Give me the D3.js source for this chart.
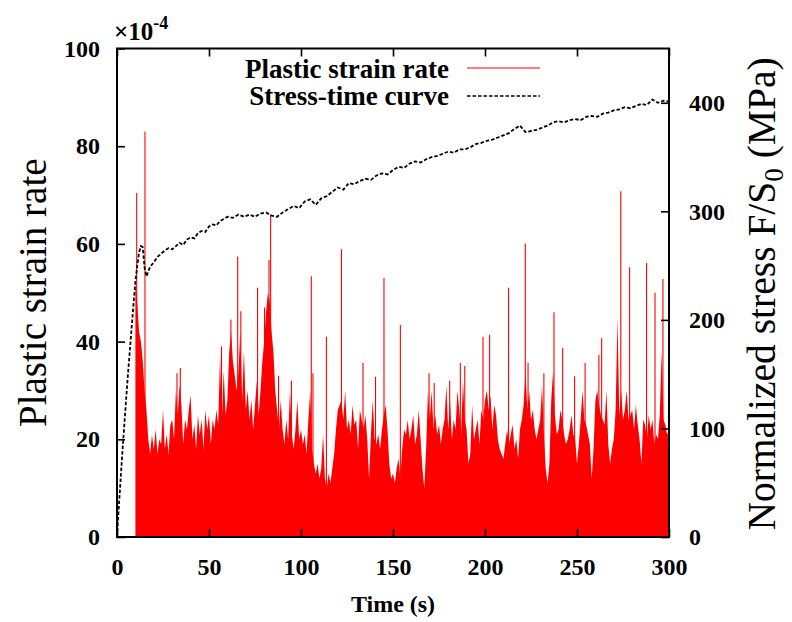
<!DOCTYPE html>
<html>
<head>
<meta charset="utf-8">
<script src="https://cdn.jsdelivr.net/npm/d3@7"></script>
<style>
  body { margin: 0; background: #fff; }
  svg text { font-family: "Liberation Serif", "Times New Roman", serif; fill: #000; }
</style>
</head>
<body>
<div id="chart"></div>
<script>
// plastic strain rate (x1e-4), one reading per second starting at rateStart
var rateStart = 10;
var strainRate = [
  52, 48, 42, 40, 36, 30, 26, 20, 17, 21,
  18, 22, 17, 20, 19, 26, 18, 21, 17, 23,
  24, 20, 30, 25, 31, 27, 19, 24, 22, 26,
  29, 20, 23, 18, 25, 21, 24, 18, 26, 22,
  25, 19, 24, 22, 26, 23, 37, 24, 34, 25,
  28, 38, 42, 36, 33, 30, 34, 42, 28, 38,
  26, 30, 24, 28, 22, 27, 32, 25, 30, 36,
  40, 46, 50, 48, 42, 38, 30, 26, 22, 28,
  22, 19, 24, 20, 30, 21, 18, 22, 28, 20,
  22, 19, 21, 17, 24, 30, 18, 15, 13, 15,
  12, 14, 21, 12, 10, 13, 11, 14, 17, 22,
  26, 27, 28, 24, 30, 22, 24, 21, 27, 23,
  24, 18, 26, 24, 22, 25, 20, 12, 21, 28,
  20, 19, 21, 18, 22, 25, 27, 22, 15, 12,
  13, 11, 14, 16, 12, 18, 22, 21, 24, 20,
  22, 25, 19, 21, 26, 20, 14, 10, 18, 30,
  24, 30, 22, 25, 21, 23, 19, 22, 24, 31,
  22, 28, 20, 24, 22, 30, 26, 21, 32, 24,
  22, 15, 17, 27, 20, 22, 24, 19, 26, 24,
  28, 30, 26, 29, 22, 27, 25, 20, 18, 17,
  16, 19, 22, 19, 21, 23, 18, 20, 16, 22,
  24, 27, 34, 26, 30, 24, 26, 22, 20, 22,
  24, 31, 21, 14, 11, 15, 28, 34, 25, 21,
  22, 26, 24, 21, 19, 20, 22, 25, 21, 20,
  15, 19, 24, 30, 24, 23, 21, 19, 12, 18,
  28, 30, 27, 25, 24, 23, 30, 19, 15, 18,
  20, 26, 45, 25, 30, 24, 26, 30, 24, 25,
  26, 22, 27, 23, 20, 15, 24, 23, 20, 25,
  22, 24, 19, 21, 20, 25, 38, 24, 23, 21,
  22
];

// isolated tall bursts of the strain rate
var spikeTimes = [10.7, 15.2, 32.6, 34.4, 56.8, 61.9, 65.6, 67.3, 76.4, 80.2, 82.6, 83.5, 87.8, 94.8,
  105.6, 106.5, 113.8, 122, 133.7, 140.5, 145.1, 154, 169.6, 172.4, 180.8, 186.6, 189, 198.9,
  202.5, 212.8, 221.9, 223.4, 232, 237.5, 242.2, 248.7, 254.4, 261.9, 263.4, 273.8, 278.6,
  287.8, 292.4, 296.7];
var spikeValues = [70.4, 83, 33.5, 34.6, 39, 44.5, 57.4, 46.2, 51, 47, 56.7, 66, 33, 32,
  53.4, 33.5, 41, 58.9, 35.6, 32.8, 53, 43.4, 33.5, 31.5, 32, 35.6, 35, 41,
  41.4, 51, 60.1, 35.6, 33.5, 46, 38.7, 32.9, 35.6, 37.3, 40.7, 70.8, 55.2,
  56.1, 50, 52.8];

// stress-time curve (MPa)
var stressTimes = [0, 1, 2, 3, 4, 5, 6, 7, 8, 9, 10, 11, 12, 13, 14, 15, 16, 18, 20, 22, 24, 26, 28, 30,
  32, 34, 36, 38, 40, 42, 44, 46, 48, 50, 52, 54, 56, 58, 60, 63, 66, 69, 72, 75, 78, 81, 84, 87,
  90, 93, 96, 99, 102, 105, 108, 111, 114, 117, 120, 123, 126, 129, 132, 135, 138, 141, 144, 147,
  150, 153, 156, 159, 162, 165, 168, 171, 174, 177, 180, 183, 186, 189, 192, 195, 198, 201, 204,
  207, 210, 213, 216, 219, 222, 225, 228, 231, 234, 237, 240, 243, 246, 249, 252, 255, 258, 261,
  264, 267, 270, 273, 276, 279, 282, 285, 288, 291, 294, 297, 300];
var stressValues = [0, 28, 54, 80, 104, 128, 151, 172, 194, 215, 235, 250, 262, 268, 267, 248, 240, 249, 253, 258, 261, 264, 266, 265,
  268, 271, 269, 274, 276, 275, 280, 282, 281, 286, 288, 287, 291, 293, 295, 294, 297, 295, 297, 295, 298, 299, 296, 295,
  299, 302, 305, 303, 309, 311, 306, 312, 314, 318, 322, 320, 326, 325, 328, 330, 329, 333, 335, 334,
  338, 341, 340, 344, 346, 345, 348, 350, 351, 353, 355, 354, 357, 357, 359, 362, 363, 365, 366,
  368, 370, 372, 376, 379, 373, 374, 375, 377, 379, 382, 383, 382, 384, 385, 384, 387, 388, 387,
  390, 391, 393, 394, 396, 395, 397, 399, 398, 403, 400, 402, 401];

var timeTicks = [0, 50, 100, 150, 200, 250, 300];
var rateTicks = [0, 20, 40, 60, 80, 100];
var stressTicks = [0, 100, 200, 300, 400];

function StrainChart(params) {

  var attrs = Object.assign({
    container: '#chart',
    width: 792,
    height: 622,
    margin: { top: 48.5, right: 123, bottom: 85, left: 117 },
    rateColor: '#ff0000',
    tickFont: 24
  }, params);

  var viz = {};

  function main() {
    var left = attrs.margin.left,
      right = attrs.width - attrs.margin.right,
      top = attrs.margin.top,
      bottom = attrs.height - attrs.margin.bottom;

    var x = d3.scaleLinear().domain([0, 300]).range([left, right]);
    var yRate = d3.scaleLinear().domain([0, 100]).range([bottom, top]);
    var yStress = d3.scaleLinear().domain([0, 450]).range([bottom, top]);

    viz.svg = d3.select(attrs.container).append('svg')
      .attr('width', attrs.width)
      .attr('height', attrs.height);

    var rateData = strainRate.map(function (v, i) { return [rateStart + i, v]; });

    // red filled strain rate
    viz.svg.append('path')
      .datum(rateData)
      .attr('fill', attrs.rateColor)
      .attr('d', d3.area()
        .x(function (d) { return x(d[0]); })
        .y0(yRate(0))
        .y1(function (d) { return yRate(d[1]); }));

    viz.svg.append('g').selectAll('line')
      .data(spikeTimes)
      .join('line')
      .attr('x1', function (d) { return x(d); })
      .attr('x2', function (d) { return x(d); })
      .attr('y1', yRate(0))
      .attr('y2', function (d, i) { return yRate(spikeValues[i]); })
      .attr('stroke', attrs.rateColor)
      .attr('stroke-width', 1.1);

    // stress curve
    viz.svg.append('path')
      .datum(stressTimes.map(function (t, i) { return [t, stressValues[i]]; }))
      .attr('fill', 'none')
      .attr('stroke', '#000')
      .attr('stroke-width', 1.8)
      .attr('stroke-dasharray', '3.5,2')
      .attr('d', d3.line()
        .x(function (d) { return x(d[0]); })
        .y(function (d) { return yStress(d[1]); }));

    // axes, ticks pointing inward
    var axes = [
      { axis: d3.axisBottom(x).tickValues(timeTicks).tickSize(-8).tickPadding(21), pos: 'translate(0,' + bottom + ')' },
      { axis: d3.axisTop(x).tickValues(timeTicks).tickSize(-8).tickFormat(''), pos: 'translate(0,' + top + ')' },
      { axis: d3.axisLeft(yRate).tickValues(rateTicks).tickSize(-8).tickPadding(17), pos: 'translate(' + left + ',0)' },
      { axis: d3.axisRight(yStress).tickValues(stressTicks).tickSize(-8).tickPadding(20), pos: 'translate(' + right + ',0)' }
    ];
    axes.forEach(function (a) {
      var g = viz.svg.append('g').attr('transform', a.pos).call(a.axis);
      g.select('.domain').remove();
      g.selectAll('line').attr('stroke-width', 1.6);
      g.selectAll('text')
        .style('font-size', attrs.tickFont + 'px')
        .style('font-weight', 'bold');
    });

    viz.svg.append('rect')
      .attr('x', left)
      .attr('y', top)
      .attr('width', right - left)
      .attr('height', bottom - top)
      .attr('fill', 'none')
      .attr('stroke', '#000')
      .attr('stroke-width', 2);

    // titles
    viz.svg.append('text')
      .attr('x', (left + right) / 2)
      .attr('y', 612)
      .attr('text-anchor', 'middle')
      .style('font-size', '24px')
      .style('font-weight', 'bold')
      .text('Time (s)');

    viz.svg.append('text')
      .attr('transform', 'translate(46,' + ((top + bottom) / 2) + ') rotate(-90)')
      .attr('text-anchor', 'middle')
      .style('font-size', '39px')
      .text('Plastic strain rate');

    var rt = viz.svg.append('text')
      .attr('transform', 'translate(775,294) rotate(-90)')
      .attr('text-anchor', 'middle')
      .style('font-size', '39.5px');
    rt.append('tspan').text('Normalized stress F/S');
    rt.append('tspan').attr('dy', 8).style('font-size', '27px').text('0');
    rt.append('tspan').attr('dy', -8).text(' (MPa)');

    var mult = viz.svg.append('text')
      .attr('x', 114)
      .attr('y', 40)
      .style('font-size', '25px')
      .style('font-weight', 'bold');
    mult.append('tspan').text('\u00d710');
    mult.append('tspan').attr('dy', -11).style('font-size', '18px').text('-4');

    // legend
    var legend = viz.svg.append('g');
    legend.append('text')
      .attr('x', 449).attr('y', 78)
      .attr('text-anchor', 'end')
      .style('font-size', '27px')
      .style('font-weight', 'bold')
      .text('Plastic strain rate');
    legend.append('line')
      .attr('x1', 467).attr('x2', 540).attr('y1', 68).attr('y2', 68)
      .attr('stroke', attrs.rateColor).attr('stroke-width', 1);
    legend.append('text')
      .attr('x', 449).attr('y', 105)
      .attr('text-anchor', 'end')
      .style('font-size', '27px')
      .style('font-weight', 'bold')
      .text('Stress-time curve');
    legend.append('line')
      .attr('x1', 467).attr('x2', 540).attr('y1', 96).attr('y2', 96)
      .attr('stroke', '#000').attr('stroke-width', 1.4)
      .attr('stroke-dasharray', '3.5,2');
  }

  main.render = function () {
    main();
    return main;
  };

  return main;
}

StrainChart().render();
</script>
</body>
</html>
